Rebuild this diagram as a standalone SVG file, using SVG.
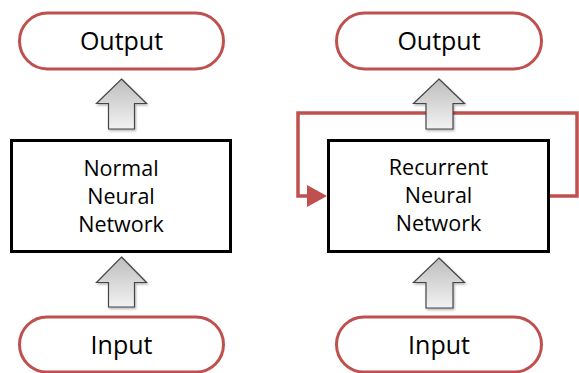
<svg xmlns="http://www.w3.org/2000/svg" width="579" height="373" viewBox="0 0 579 373">
<style>
.pill{fill:#fff;stroke:#c0504d;stroke-width:3}
.box{fill:#fff;stroke:#000;stroke-width:3}
.arr{fill:url(#g);stroke:#454545;stroke-width:1.2;stroke-linejoin:miter;filter:url(#sh)}
.t1{font-family:"Open Sans","Noto Sans",sans-serif;font-size:25px;fill:#000;text-anchor:middle}
.t2{font-family:"Open Sans","Noto Sans",sans-serif;font-size:21.5px;fill:#000;text-anchor:middle}
.loop{fill:none;stroke:#c0504d;stroke-width:3.5;stroke-linejoin:miter}
</style>
<defs>
<linearGradient id="g" x1="0" y1="0" x2="0" y2="1">
<stop offset="0" stop-color="#bdbdbd"/>
<stop offset="1" stop-color="#f2f2f2"/>
</linearGradient>
<filter id="sh" x="-20%" y="-20%" width="150%" height="150%">
<feDropShadow dx="1" dy="1.5" stdDeviation="1" flood-color="#000" flood-opacity="0.3"/>
</filter>
<marker id="ah" markerUnits="userSpaceOnUse" markerWidth="20" markerHeight="22" refX="5" refY="11" orient="auto" overflow="visible">
<path d="M0,0 L20,11 L0,22 Z" fill="#c0504d"/>
</marker>
</defs>
<g id="connectors">
<path class="loop" d="M550,196 H577 V113 H298 V196 H312" marker-end="url(#ah)"/>
</g>
<g id="output-left">
<rect class="pill" x="19.5" y="13" width="204" height="56" rx="28"/>
<text class="t1" x="121.5" y="49.5">Output</text>
</g>
<g id="arrow-left-top">
<path class="arr" d="M121.5,79 L146.5,103.5 H134.5 V129 H108.5 V103.5 H96.5 Z"/>
</g>
<g id="box-left">
<rect class="box" x="11.5" y="140.5" width="219" height="111"/>
<text class="t2" x="121" y="176">Normal</text>
<text class="t2" x="121" y="204">Neural</text>
<text class="t2" x="121" y="232">Network</text>
</g>
<g id="arrow-left-bottom">
<path class="arr" d="M121.5,257 L146.5,282.5 H134.5 V307 H108.5 V282.5 H96.5 Z"/>
</g>
<g id="input-left">
<rect class="pill" x="19.5" y="317" width="204" height="55" rx="27.5"/>
<text class="t1" x="121.5" y="353.5">Input</text>
</g>
<g id="output-right">
<rect class="pill" x="336.5" y="13" width="205" height="56" rx="28"/>
<text class="t1" x="439" y="49.5">Output</text>
</g>
<g id="arrow-right-top">
<path class="arr" d="M439,79 L464.5,103.5 H453 V129 H426 V103.5 H413.5 Z"/>
</g>
<g id="box-right">
<rect class="box" x="328.5" y="140.5" width="220" height="111"/>
<text class="t2" x="438.5" y="175">Recurrent</text>
<text class="t2" x="438.5" y="203">Neural</text>
<text class="t2" x="438.5" y="231">Network</text>
</g>
<g id="arrow-right-bottom">
<path class="arr" d="M439,258 L464.5,282.5 H453 V308 H426 V282.5 H413.5 Z"/>
</g>
<g id="input-right">
<rect class="pill" x="336.5" y="317" width="205" height="55" rx="27.5"/>
<text class="t1" x="439" y="354">Input</text>
</g>
</svg>
